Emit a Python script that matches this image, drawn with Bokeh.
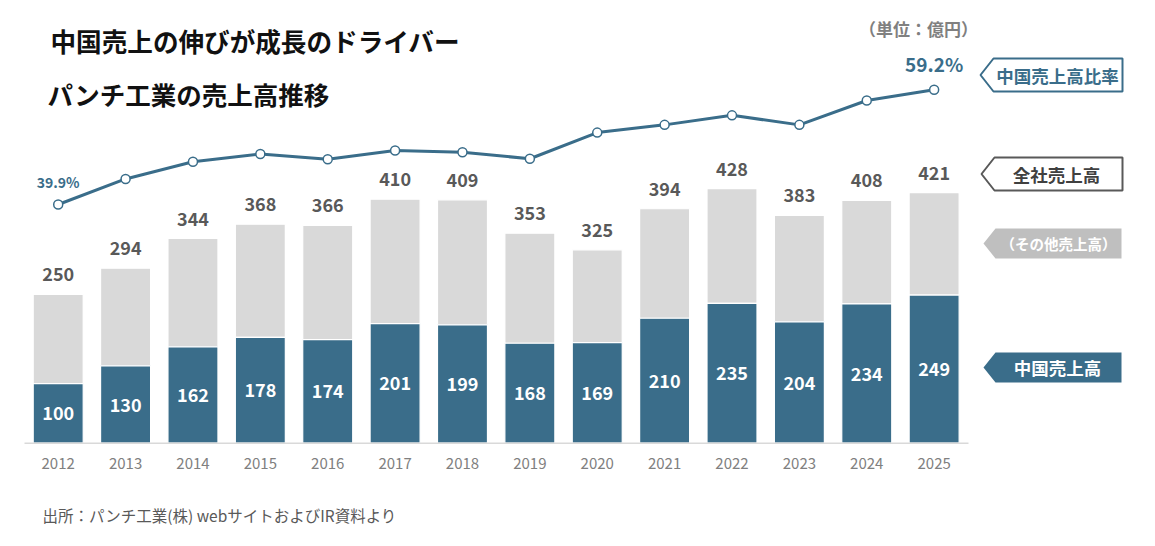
from bokeh.plotting import figure
from bokeh.models import Range1d
from bokeh.core.properties import value
from bokeh.embed import file_html
from bokeh.resources import INLINE

# ---- data ----
years = ["2012", "2013", "2014", "2015", "2016", "2017", "2018", "2019",
         "2020", "2021", "2022", "2023", "2024", "2025"]
total_sales = [250, 294, 344, 368, 366, 410, 409, 353, 325, 394, 428, 383, 408, 421]
china_sales = [100, 130, 162, 178, 174, 201, 199, 168, 169, 210, 235, 204, 234, 249]
china_ratio = [39.9, 44.2, 47.1, 48.4, 47.5, 49.0, 48.7, 47.6, 52.0, 53.3, 54.9, 53.3, 57.4, 59.2]

title1 = "中国売上の伸びが成長のドライバー"
title2 = "パンチ工業の売上高推移"
unit_text = "（単位：億円）"
source_text = "出所：パンチ工業(株) webサイトおよびIR資料より"
legend_ratio = "中国売上高比率"
legend_total = "全社売上高"
legend_other = "（その他売上高）"
legend_china = "中国売上高"

TEAL = "#3a6d8a"
GRAY_BAR = "#d9d9d9"
LABEL_GRAY = "#595959"
FONT = "Noto Sans CJK JP"

W, H = 1139, 530
OFF = 0             # page offset of the figure (observed)
SX = 67.38          # px per category
X0 = 57.7 - OFF     # px of first category center in the figure
SY = 0.595          # px per 億円
BASE = H - (442.7 - OFF)   # px of zero from the bottom
RY = 5.943          # px per percent
R_REF_PX = H - (204.0 - OFF)  # px from bottom of 39.9%

x_start = -X0 / SX
x_end = (W - X0) / SX
y_start = -BASE / SY
y_end = (H - BASE) / SY
r_start = 39.9 - R_REF_PX / RY
r_end = 39.9 + (H - R_REF_PX) / RY


def X(px):  # page px -> data x
    return x_start + (px - OFF) / SX


def Y(py):  # page px (from top) -> data y
    return y_start + (H - (py - OFF)) / SY


p = figure(width=W, height=H, output_backend="svg", toolbar_location=None,
           x_range=Range1d(x_start, x_end), y_range=Range1d(y_start, y_end),
           min_border=0, min_border_left=0, min_border_right=0,
           min_border_top=0, min_border_bottom=0)
p.extra_y_ranges = {"ratio": Range1d(r_start, r_end)}
p.axis.visible = False
p.grid.visible = False
p.outline_line_color = None
p.background_fill_color = "white"
p.border_fill_color = "white"

idx = list(range(len(years)))

# bars
p.vbar(x=idx, bottom=china_sales, top=total_sales, width=0.742,
       fill_color=GRAY_BAR, line_color="white", line_width=1.2)
p.vbar(x=idx, bottom=0, top=china_sales, width=0.742,
       fill_color=TEAL, line_color="white", line_width=1.2)

# baseline
p.segment(x0=[X(24)], y0=[0], x1=[X(968)], y1=[0], line_color="#d9d9d9", line_width=1.5)

# value labels
p.text(x=idx, y=total_sales, text=[str(v) for v in total_sales], y_offset=-20,
       text_align="center", text_baseline="middle", text_font=value(FONT),
       text_font_style="bold", text_font_size="18px", text_color=LABEL_GRAY)
p.text(x=idx, y=[v / 2 for v in china_sales], text=[str(v) for v in china_sales],
       text_align="center", text_baseline="middle", text_font=value(FONT),
       text_font_style="bold", text_font_size="18px", text_color="white")

# year labels
p.text(x=idx, y=[Y(463)] * len(years), text=years, text_align="center",
       text_baseline="middle", text_font=value(FONT), text_font_size="15px",
       text_color="#808080")

# ratio line
p.line(x=idx, y=china_ratio, y_range_name="ratio", line_color=TEAL, line_width=3)
p.scatter(x=idx, y=china_ratio, y_range_name="ratio", size=9, marker="circle",
          fill_color="white", line_color=TEAL, line_width=1.5)
p.text(x=[idx[0]], y=[china_ratio[0]], y_range_name="ratio",
       text=[f"{china_ratio[0]:.1f}%"], y_offset=-23, text_align="center",
       text_baseline="middle", text_font=value(FONT), text_font_style="bold",
       text_font_size="14px", text_color=TEAL)
p.text(x=[idx[-1]], y=[china_ratio[-1]], y_range_name="ratio",
       text=[f"{china_ratio[-1]:.1f}%"], y_offset=-26, text_align="center",
       text_baseline="middle", text_font=value(FONT), text_font_style="bold",
       text_font_size="19px", text_color=TEAL)

# titles
p.text(x=[X(50)], y=[Y(40)], text=[title1], text_align="left", text_baseline="middle",
       text_font=value(FONT), text_font_style="bold", text_font_size="25.6px",
       text_color="#111111")
p.text(x=[X(47)], y=[Y(93)], text=[title2], text_align="left", text_baseline="middle",
       text_font=value(FONT), text_font_style="bold", text_font_size="25.5px",
       text_color="#111111")
p.text(x=[X(918)], y=[Y(28)], text=[unit_text], text_align="center",
       text_baseline="middle", text_font=value(FONT), text_font_style="bold",
       text_font_size="17px", text_color="#808080")
p.text(x=[X(42)], y=[Y(514)], text=[source_text], text_align="left",
       text_baseline="middle", text_font=value(FONT), text_font_size="15.5px",
       text_color=LABEL_GRAY)


# arrow-shaped legend tags
def tag(tip, left, right, top, bottom):
    mid = (top + bottom) / 2
    xs = [X(tip), X(left), X(right), X(right), X(left)]
    ys = [Y(mid), Y(top), Y(top), Y(bottom), Y(bottom)]
    return xs, ys


t1 = tag(980, 993, 1122, 58, 91)
t2 = tag(981, 994, 1122, 157, 190)
t3 = tag(983, 995, 1121, 228, 258)
t4 = tag(983, 995, 1121, 352, 382)
p.patches(xs=[t1[0]], ys=[t1[1]], fill_color="white", line_color=TEAL, line_width=2)
p.patches(xs=[t2[0]], ys=[t2[1]], fill_color="white", line_color=LABEL_GRAY, line_width=2)
p.patches(xs=[t3[0]], ys=[t3[1]], fill_color="#bfbfbf", line_color=None)
p.patches(xs=[t4[0]], ys=[t4[1]], fill_color=TEAL, line_color=None)

p.text(x=[X(1057)], y=[Y(75)], text=[legend_ratio], text_align="center",
       text_baseline="middle", text_font=value(FONT), text_font_style="bold",
       text_font_size="17.5px", text_color=TEAL)
p.text(x=[X(1056)], y=[Y(174)], text=[legend_total], text_align="center",
       text_baseline="middle", text_font=value(FONT), text_font_style="bold",
       text_font_size="17.5px", text_color="#404040")
p.text(x=[X(1058)], y=[Y(243)], text=[legend_other], text_align="center",
       text_baseline="middle", text_font=value(FONT), text_font_style="bold",
       text_font_size="14.5px", text_color="white")
p.text(x=[X(1057)], y=[Y(367)], text=[legend_china], text_align="center",
       text_baseline="middle", text_font=value(FONT), text_font_style="bold",
       text_font_size="17.5px", text_color="white")

open("out.html", "w").write(file_html(p, INLINE))
